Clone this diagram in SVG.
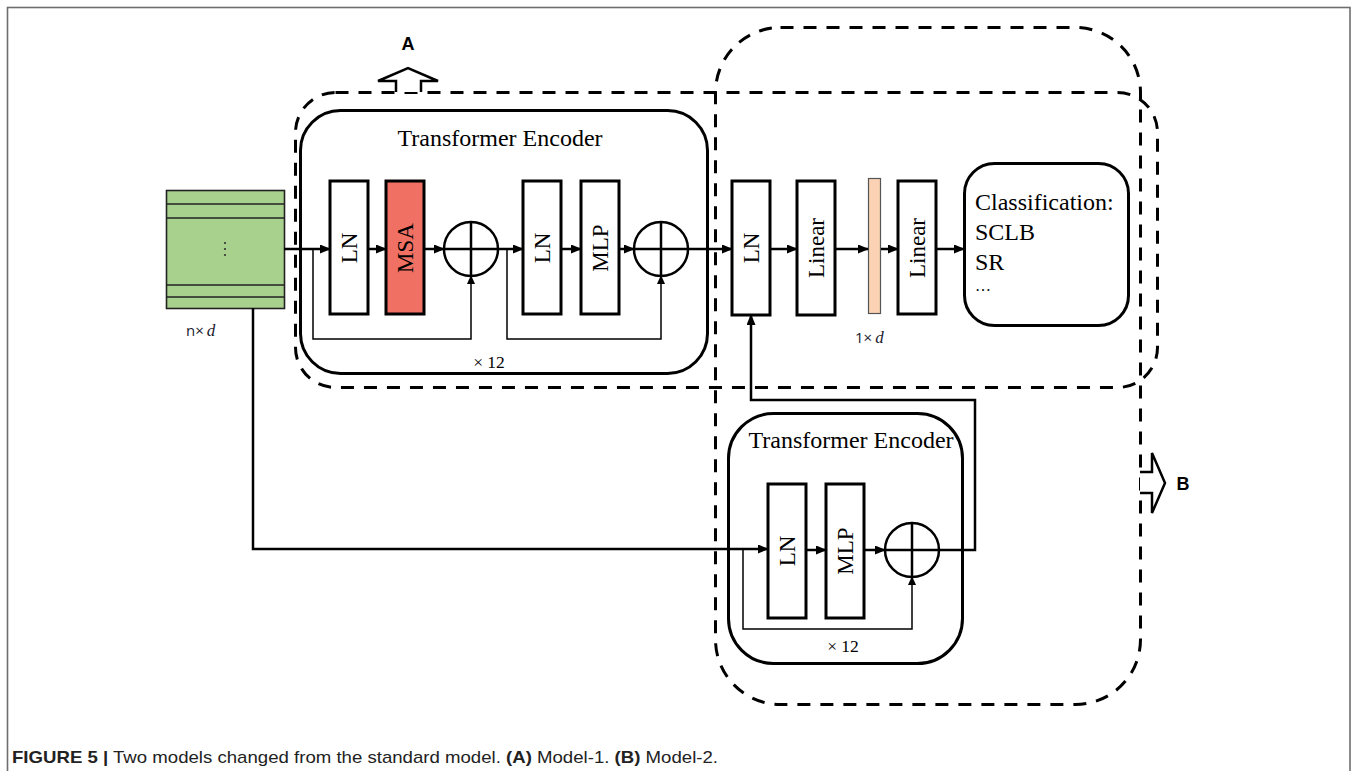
<svg xmlns="http://www.w3.org/2000/svg" width="1358" height="771" viewBox="0 0 1358 771">
<style>
.frame{fill:none;stroke:#6e6e6e;stroke-width:1.6}
.dash{fill:none;stroke:#000;stroke-width:3;stroke-dasharray:13 10}
.enc{fill:#fff;stroke:#000;stroke-width:3}
.box{fill:#fff;stroke:#000;stroke-width:3}
.msa{fill:#F07064;stroke:#000;stroke-width:3}
.bar{fill:#FBD3B4;stroke:#555;stroke-width:1.2}
.grn{fill:#A9D18E;stroke:#222;stroke-width:1.6}
.gl{stroke:#222;stroke-width:1.6}
.flow{fill:none;stroke:#000;stroke-width:2.5}
.thin{fill:none;stroke:#000;stroke-width:1.5}
.plus{fill:#fff;stroke:#000;stroke-width:2.5}
.hollow{fill:#fff;stroke:#000;stroke-width:2.5;stroke-linejoin:miter}
.serif{font-family:"Liberation Serif","Times New Roman",serif;fill:#000}
.title{font-size:24px;text-anchor:middle}
.vt{font-size:23px;text-anchor:middle;dominant-baseline:central}
.sans{font-family:"Liberation Sans",Arial,sans-serif}
.lab{font-family:"Liberation Sans",Arial,sans-serif;font-weight:bold;font-size:18px;fill:#000}
.dim{font-family:"Open Sans","Liberation Sans",sans-serif;font-size:15px;fill:#1a1a2e}
.dimi{font-family:"Liberation Serif",serif;font-style:italic;font-size:17px}
</style>
<defs>
<marker id="ah" markerWidth="11" markerHeight="9" refX="10" refY="4.5" orient="auto" markerUnits="userSpaceOnUse"><path d="M0,0 L11,4.5 L0,9 Z" fill="#000"/></marker>
<marker id="ahs" markerWidth="9" markerHeight="8" refX="8" refY="4" orient="auto" markerUnits="userSpaceOnUse"><path d="M0,0 L9,4 L0,8 Z" fill="#000"/></marker>
</defs>
<rect x="0" y="0" width="1358" height="771" fill="#fff"/>
<rect class="frame" x="7.5" y="7.5" width="1342.5" height="800"/>

<g id="dashed-boxes">
<rect id="boxA" class="dash" x="295.5" y="92.5" width="862" height="295" rx="40"/>
<rect id="boxB" class="dash" x="715.5" y="27.5" width="425" height="677" rx="65"/>
</g>

<g id="markerA">
<path class="hollow" d="M396,92 L396,81 L378,81 L408,68 L438,81 L421,81 L421,92"/>
<text class="lab" x="408" y="50" text-anchor="middle">A</text>
</g>
<g id="markerB">
<path class="hollow" d="M1140,472 L1152,472 L1152,453 L1165,483 L1152,513 L1152,493 L1140,493"/>
<text class="lab" x="1183" y="490" text-anchor="middle">B</text>
</g>

<g id="input">
<rect class="grn" x="166.5" y="190.5" width="118" height="118"/>
<line class="gl" x1="166.5" y1="204" x2="284.5" y2="204"/>
<line class="gl" x1="166.5" y1="218" x2="284.5" y2="218"/>
<line class="gl" x1="166.5" y1="285" x2="284.5" y2="285"/>
<line class="gl" x1="166.5" y1="297" x2="284.5" y2="297"/>
<circle cx="225" cy="243" r="1.1" fill="#333"/>
<circle cx="225" cy="249" r="1.1" fill="#333"/>
<circle cx="225" cy="255" r="1.1" fill="#333"/>
<text x="186" y="336" class="dim">n×<tspan class="dimi" dx="3">d</tspan></text>
</g>

<g id="encoderA">
<rect class="enc" x="300.5" y="110.5" width="407" height="263" rx="40"/>
<text class="serif title" x="500" y="146">Transformer Encoder</text>
<text class="serif" x="489" y="368" font-size="17.5" text-anchor="middle">× 12</text>
</g>
<g id="LN1"><rect class="box" x="330" y="181" width="38" height="133"/><text class="serif vt" transform="translate(349,248) rotate(-90)">LN</text></g>
<g id="MSA"><rect class="msa" x="386" y="181" width="38" height="133"/><text class="serif vt" font-size="24" transform="translate(405,248) rotate(-90)">MSA</text></g>
<g id="add1"><circle class="plus" cx="471" cy="249" r="27"/><line class="flow" x1="444" y1="249" x2="498" y2="249"/><line class="flow" x1="471" y1="222" x2="471" y2="276"/></g>
<g id="LN2"><rect class="box" x="523" y="181" width="38" height="133"/><text class="serif vt" transform="translate(542,248) rotate(-90)">LN</text></g>
<g id="MLP1"><rect class="box" x="581" y="181" width="38" height="133"/><text class="serif vt" transform="translate(600,248) rotate(-90)">MLP</text></g>
<g id="add2"><circle class="plus" cx="661" cy="249" r="27"/><line class="flow" x1="634" y1="249" x2="688" y2="249"/><line class="flow" x1="661" y1="222" x2="661" y2="276"/></g>

<g id="LN3"><rect class="box" x="732" y="181" width="38" height="134"/><text class="serif vt" transform="translate(751,248) rotate(-90)">LN</text></g>
<g id="Linear1"><rect class="box" x="797" y="181" width="38" height="134"/><text class="serif vt" transform="translate(816,248) rotate(-90)">Linear</text></g>
<g id="vec"><rect class="bar" x="868.5" y="178.5" width="12" height="135"/><text x="855" y="343" class="dim">1×<tspan class="dimi" dx="3">d</tspan></text></g>
<g id="Linear2"><rect class="box" x="898" y="181" width="38" height="133"/><text class="serif vt" transform="translate(917,248) rotate(-90)">Linear</text></g>
<g id="classification">
<rect class="box" x="964.5" y="163.5" width="164" height="162" rx="30"/>
<text class="serif" font-size="24" x="975" y="210">Classification:</text>
<text class="serif" font-size="24" x="975" y="240">SCLB</text>
<text class="serif" font-size="24" x="975" y="270">SR</text>
<text class="serif" font-size="16" x="975" y="291">…</text>
</g>

<g id="encoderB">
<rect class="enc" x="728.5" y="413.5" width="234" height="250" rx="45"/>
<text class="serif title" x="851" y="448">Transformer Encoder</text>
<text class="serif" x="843" y="652" font-size="17.5" text-anchor="middle">× 12</text>
</g>
<g id="LN4"><rect class="box" x="768" y="484" width="38" height="134"/><text class="serif vt" transform="translate(787,551) rotate(-90)">LN</text></g>
<g id="MLP2"><rect class="box" x="826" y="484" width="38" height="134"/><text class="serif vt" transform="translate(845,551) rotate(-90)">MLP</text></g>
<g id="add3"><circle class="plus" cx="912" cy="550" r="27"/><line class="flow" x1="885" y1="550" x2="939" y2="550"/><line class="flow" x1="912" y1="523" x2="912" y2="577"/></g>

<g id="connectors">
<line class="flow" x1="284" y1="249" x2="330" y2="249" marker-end="url(#ah)"/>
<line class="flow" x1="368" y1="249" x2="386" y2="249" marker-end="url(#ah)"/>
<line class="flow" x1="424" y1="249" x2="444" y2="249" marker-end="url(#ah)"/>
<line class="flow" x1="498" y1="249" x2="523" y2="249" marker-end="url(#ah)"/>
<line class="flow" x1="561" y1="249" x2="581" y2="249" marker-end="url(#ah)"/>
<line class="flow" x1="619" y1="249" x2="634" y2="249" marker-end="url(#ah)"/>
<line class="flow" x1="688" y1="249" x2="732" y2="249" marker-end="url(#ah)"/>
<line class="flow" x1="770" y1="249" x2="797" y2="249" marker-end="url(#ah)"/>
<line class="flow" x1="835" y1="249" x2="868" y2="249" marker-end="url(#ah)"/>
<line class="flow" x1="881" y1="249" x2="898" y2="249" marker-end="url(#ah)"/>
<line class="flow" x1="936" y1="249" x2="964" y2="249" marker-end="url(#ah)"/>
<polyline class="thin" points="313,249 313,339 471,339 471,276" marker-end="url(#ahs)"/>
<polyline class="thin" points="507,249 507,339 661,339 661,276" marker-end="url(#ahs)"/>
<polyline class="flow" points="253,308 253,549 768,549" marker-end="url(#ah)"/>
<line class="flow" x1="806" y1="550" x2="826" y2="550" marker-end="url(#ah)"/>
<line class="flow" x1="864" y1="550" x2="885" y2="550" marker-end="url(#ah)"/>
<polyline class="thin" points="743,549 743,629 912,629 912,577" marker-end="url(#ahs)"/>
<polyline class="flow" points="939,550 975,550 975,400 751,400 751,315" marker-end="url(#ah)"/>
</g>

<g id="caption">
<text class="sans" x="12" y="763" font-size="17" fill="#222" textLength="706" lengthAdjust="spacingAndGlyphs"><tspan font-weight="bold">FIGURE 5 |</tspan> Two models changed from the standard model. <tspan font-weight="bold">(A)</tspan> Model-1. <tspan font-weight="bold">(B)</tspan> Model-2.</text>
</g>
</svg>
